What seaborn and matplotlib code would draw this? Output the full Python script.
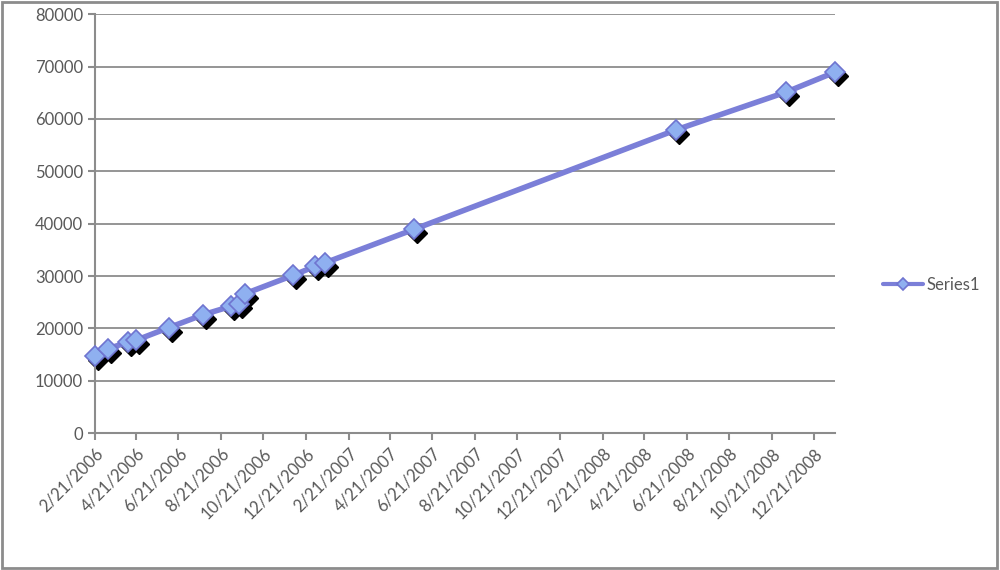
import pandas as pd
import numpy as np
import seaborn as sb
import matplotlib
matplotlib.use('Agg')
import matplotlib.pyplot as plt
import matplotlib.dates as mdates
import matplotlib.transforms as mtransforms
from matplotlib.patches import Rectangle

# data
dates = ["2/21/2006", "3/12/2006", "4/10/2006", "4/21/2006", "6/7/2006",
         "7/27/2006", "9/5/2006", "9/16/2006", "9/25/2006", "12/3/2006",
         "1/3/2007", "1/17/2007", "5/25/2007", "6/6/2008", "11/11/2008",
         "1/20/2009"]
values = [14700, 16150, 17400, 17750, 20150,
          22650, 24250, 24750, 26650, 30150,
          31850, 32500, 38900, 57950, 65150,
          68950]
series_name = "Series1"

df = pd.DataFrame({"date": pd.to_datetime(dates, format="%m/%d/%Y"),
                   "value": values})

line_color = "#7b7fd8"
marker_face = "#8fb0f0"
marker_edge = "#6f74d0"
grey = "#8c8c8c"
text_grey = "#595959"

sb.set_style("white")
plt.rcParams['font.family'] = ['Lato', 'DejaVu Sans']

fig = plt.figure(figsize=(10, 5.7), dpi=100)
ax = fig.add_axes([0.095, 0.24, 0.74, 0.735])

# drop shadow under the markers
shadow = mtransforms.offset_copy(ax.transData, fig=fig, x=3, y=-4, units='dots')
ax.plot(df["date"], df["value"], linestyle='none', marker='D', markersize=10.5,
        color='black', transform=shadow, zorder=2, clip_on=False)

sb.lineplot(data=df, x="date", y="value", ax=ax, color=line_color, linewidth=4,
            marker='D', markersize=10.5, markerfacecolor=marker_face,
            markeredgecolor=marker_edge, markeredgewidth=1.2, label=series_name,
            zorder=3, clip_on=False)

ax.set_xlim(df["date"].iloc[0], df["date"].iloc[-1])
ax.set_ylim(0, 80000)
ax.set_yticks(np.arange(0, 80001, 10000))
ax.xaxis.set_major_locator(mdates.MonthLocator(bymonth=[2, 4, 6, 8, 10, 12], bymonthday=21))
ax.xaxis.set_major_formatter(mdates.DateFormatter("%-m/%d/%Y"))

ax.grid(axis='y', color=grey, linewidth=1.3)
ax.set_axisbelow(True)
for s in ['top', 'right']:
    ax.spines[s].set_visible(False)
for s in ['left', 'bottom']:
    ax.spines[s].set_color(grey)
    ax.spines[s].set_linewidth(1.5)

ax.tick_params(axis='both', direction='out', length=5, width=1.5, color=grey,
               labelcolor=text_grey, labelsize=12, left=True, bottom=True)
plt.setp(ax.get_xticklabels(), rotation=45, ha='right', rotation_mode='anchor')
ax.set_xlabel("")
ax.set_ylabel("")

leg = ax.legend(loc='center left', bbox_to_anchor=(1.045, 0.353), frameon=False,
                fontsize=12, handlelength=2.4, handletextpad=0.2, markerscale=0.6)
for t in leg.get_texts():
    t.set_color(text_grey)
for h in leg.get_lines():
    h.set_linewidth(3)

fig.patches.append(Rectangle((0.002, 0.004), 0.995, 0.993, transform=fig.transFigure,
                             fill=False, edgecolor=grey, linewidth=2))

fig.savefig("out.png")
